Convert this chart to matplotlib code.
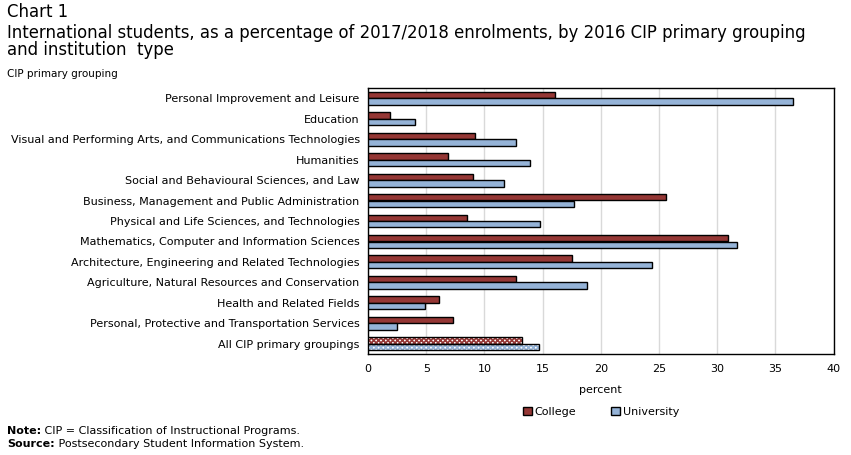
import matplotlib
matplotlib.use("Agg")
import matplotlib.pyplot as plt
from matplotlib.patches import Patch
from matplotlib.transforms import offset_copy

categories = [
    "Personal Improvement and Leisure",
    "Education",
    "Visual and Performing Arts, and Communications Technologies",
    "Humanities",
    "Social and Behavioural Sciences, and Law",
    "Business, Management and Public Administration",
    "Physical and Life Sciences, and Technologies",
    "Mathematics, Computer and Information Sciences",
    "Architecture, Engineering and Related Technologies",
    "Agriculture, Natural Resources and Conservation",
    "Health and Related Fields",
    "Personal, Protective and Transportation Services",
    "All CIP primary groupings",
]
college = [16.1, 1.9, 9.2, 6.9, 9.0, 25.6, 8.5, 30.9, 17.5, 12.7, 6.1, 7.3, 13.2]
university = [36.5, 4.0, 12.7, 13.9, 11.7, 17.7, 14.8, 31.7, 24.4, 18.8, 4.9, 2.5, 14.7]
xticks = [0, 5, 10, 15, 20, 25, 30, 35, 40]

C_COL = "#953735"
C_UNI = "#95b3d7"

plt.rcParams['font.family'] = ['DejaVu Sans']
plt.rcParams['hatch.linewidth'] = 1.2
fig = plt.figure(figsize=(8.51, 4.55), dpi=100)
ax = fig.add_axes([368/851, 1-354/455, (833.5-368)/851, (354-88)/455])

n = len(categories)
ypos = list(range(n))
h = 0.31
col_y = [y - h/2 - 0.005 for y in ypos]
uni_y = [y + h/2 + 0.005 for y in ypos]

for i in range(n):
    if i == n - 1:
        ax.barh(col_y[i], college[i], height=h, color="white", edgecolor=C_COL,
                hatch="xxxxxxx", linewidth=0, zorder=3)
        ax.barh(col_y[i], college[i], height=h, fill=False, edgecolor="black",
                linewidth=1, zorder=4)
        ax.barh(uni_y[i], university[i], height=h, color="white", edgecolor=C_UNI,
                hatch="xxxxxxx", linewidth=0, zorder=3)
        ax.barh(uni_y[i], university[i], height=h, fill=False, edgecolor="black",
                linewidth=1, zorder=4)
    else:
        ax.barh(col_y[i], college[i], height=h, color=C_COL, edgecolor="black",
                linewidth=1, zorder=3)
        ax.barh(uni_y[i], university[i], height=h, color=C_UNI, edgecolor="black",
                linewidth=1, zorder=3)

ax.set_ylim(n - 0.5, -0.5)
ax.set_xlim(0, 40)
ax.set_xticks(xticks)
ax.set_xticklabels([str(t) for t in xticks], fontsize=8)
ax.set_yticks(ypos)
ax.set_yticklabels(categories, fontsize=8)
ax.tick_params(axis='both', length=0, pad=6)
ax.tick_params(axis='x', pad=7)
ax.grid(axis='x', color="#d9d9d9", linewidth=1, zorder=0)
ax.set_axisbelow(True)
for s in ax.spines.values():
    s.set_linewidth(1)
    s.set_color("black")
ax.set_xlabel("percent", fontsize=8, labelpad=8)

handles = [Patch(facecolor=C_COL, edgecolor="black", linewidth=1),
           Patch(facecolor=C_UNI, edgecolor="black", linewidth=1)]
fig.legend(handles, ["College", "University"], loc="center",
           bbox_to_anchor=(601/851, 1-412/455), ncol=2, frameon=False,
           fontsize=8, handlelength=0.8, handleheight=0.8, handletextpad=0.2,
           columnspacing=3.2)

fig.text(7/851, 1-12/455, "Chart 1", fontsize=11.9, va="center", ha="left")
fig.text(7/851, 1-33/455,
         "International students, as a percentage of 2017/2018 enrolments, by 2016 CIP primary grouping",
         fontsize=11.9, va="center", ha="left")
fig.text(7/851, 1-50/455, "and institution  type", fontsize=11.9, va="center", ha="left")
fig.text(7/851, 1-74/455, "CIP primary grouping", fontsize=7.5, va="center", ha="left")

renderer = fig.canvas.get_renderer()
for yy, bold, rest in [(431, "Note:", " CIP = Classification of Instructional Programs."),
                       (444, "Source:", " Postsecondary Student Information System.")]:
    t = fig.text(7/851, 1-yy/455, bold, fontsize=8, fontweight="bold", va="center", ha="left")
    w = t.get_window_extent(renderer=renderer).width
    fig.text(7/851 + w/851, 1-yy/455, rest, fontsize=8, va="center", ha="left")

fig.savefig("out.png", dpi=100)
